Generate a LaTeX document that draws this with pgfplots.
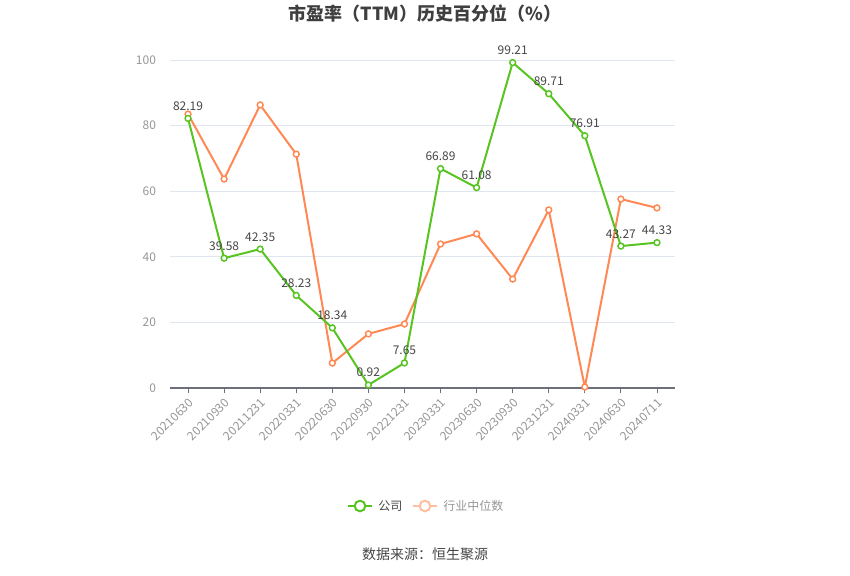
\documentclass[border=0pt]{standalone}
\usepackage{pgfplots}
\pgfplotsset{compat=1.18}
\usepackage{fontspec}
\setmainfont{Noto Sans CJK SC}
\definecolor{cgreen}{RGB}{88,196,34}
\definecolor{corange}{RGB}{255,137,84}
\definecolor{corangelt}{RGB}{255,190,160}
\definecolor{cgrid}{RGB}{224,230,241}
\definecolor{caxis}{RGB}{110,112,121}
\definecolor{ctick}{RGB}{150,150,150}
\definecolor{clabel}{RGB}{70,70,70}
\begin{document}
\begin{tikzpicture}
\path[use as bounding box] (-127.5pt,-140.25pt) rectangle (510pt,291pt);
\begin{axis}[
  at={(0,0)}, anchor=south west,
  scale only axis, width=378.75pt, height=246pt,
  xmin=-0.5, xmax=13.5, ymin=0, ymax=100,
  xtick={0,...,13},
  xticklabels={20210630,20210930,20211231,20220331,20220630,20220930,20221231,20230331,20230630,20230930,20231231,20240331,20240630,20240711},
  ytick={0,20,40,60,80,100},
  axis x line*=bottom, axis y line*=left,
  y axis line style={draw=none},
  x axis line style={draw=caxis, line width=0.8pt, -},
  ytick style={draw=none},
  xtick style={draw=caxis, line width=0.6pt},
  tick align=outside, major tick length=4pt,
  ymajorgrids, major grid style={draw=cgrid, line width=0.6pt},
  tick label style={font=\fontsize{9}{10}\selectfont, text=ctick},
  x tick label style={rotate=45, anchor=north east, inner sep=2pt},
  y tick label style={xshift=-3pt},
  /pgf/number format/assume math mode=true,
  clip=false,
]
\addplot[corange, line width=1.5pt, mark=*, mark size=2.2pt, mark options={fill=white, draw=corange, line width=1.1pt}] coordinates {
(0,83.5) (1,63.7) (2,86.3) (3,71.3) (4,7.6) (5,16.5) (6,19.5) (7,43.9) (8,47.0) (9,33.2) (10,54.3) (11,0.3) (12,57.6) (13,54.9)};
\addplot[cgreen, line width=1.5pt, mark=*, mark size=2.2pt, mark options={fill=white, draw=cgreen, line width=1.1pt},
  nodes near coords, every node near coord/.append style={font=\fontsize{9}{10}\selectfont, text=clabel, yshift=2pt, /pgf/number format/fixed, /pgf/number format/fixed zerofill, /pgf/number format/precision=2}] coordinates {
(0,82.19) (1,39.58) (2,42.35) (3,28.23) (4,18.34) (5,0.92) (6,7.65) (7,66.89) (8,61.08) (9,99.21) (10,89.71) (11,76.91) (12,43.27) (13,44.33)};
\end{axis}
\node[font=\bfseries\fontsize{13.5}{15}\selectfont, text=clabel!90!black] at (191.25pt,280.5pt) {市盈率（TTM）历史百分位（\%）};
\node[font=\fontsize{10.5}{12}\selectfont, text=clabel] at (191.25pt,-124.5pt) {数据来源：恒生聚源};
% legend
\begin{scope}[shift={(133.5pt,-88.5pt)}]
\draw[cgreen, line width=1.5pt] (0,0) -- (18pt,0);
\draw[cgreen, line width=1.5pt, fill=white] (9pt,0) circle (4pt);
\node[anchor=west, font=\fontsize{9}{10}\selectfont, text=clabel, inner sep=0pt] at (22.5pt,0) {公司};
\draw[corangelt, line width=1.5pt] (48.75pt,0) -- (66.75pt,0);
\draw[corangelt, line width=1.5pt, fill=white] (57.75pt,0) circle (4pt);
\node[anchor=west, font=\fontsize{9}{10}\selectfont, text=ctick, inner sep=0pt] at (71.25pt,0) {行业中位数};
\end{scope}
\end{tikzpicture}
\end{document}
